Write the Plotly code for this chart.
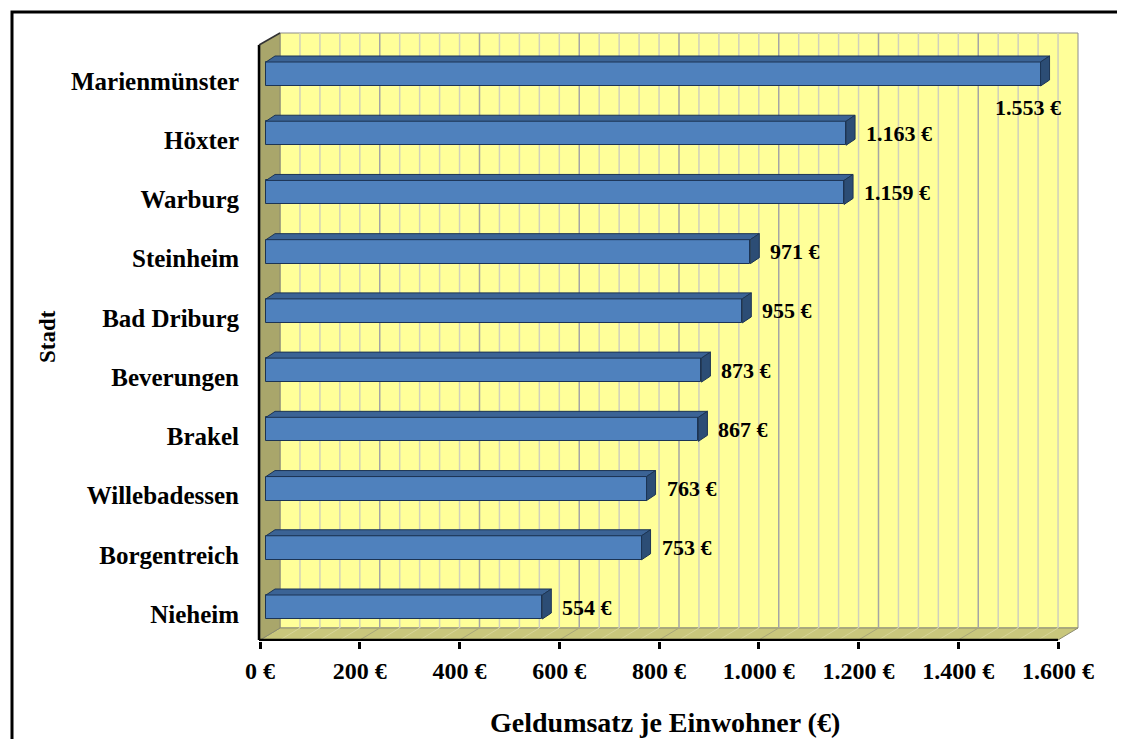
import plotly.graph_objects as go

# ---------------- data ----------------
cities = ["Nieheim", "Borgentreich", "Willebadessen", "Brakel", "Beverungen",
          "Bad Driburg", "Steinheim", "Warburg", "Höxter", "Marienmünster"]
values = [554, 753, 763, 867, 873, 955, 971, 1159, 1163, 1553]
tick_values = [0, 200, 400, 600, 800, 1000, 1200, 1400, 1600]
tick_labels = ["0 €", "200 €", "400 €", "600 €", "800 €", "1.000 €", "1.200 €", "1.400 €", "1.600 €"]
x_title = "Geldumsatz je Einwohner (€)"
y_title = "Stadt"
grid_step = 40


def euro(v):
    return f"{v:,}".replace(",", ".") + " €"


# ---------------- geometry (reference pixels -> axis units) ----------------
OFF = 8                     # page body margin
W, H = 1125 - OFF, 739 - OFF
PL, PR, PT, PB = 256, 1090, 30, 641
KX = 798 / 1600.0          # px per value unit
X0PX = 260                 # pixel of value 0
KY = 533 / 9.0             # px per category
Y0PX = 614                 # pixel of first category

xr = [(PL - X0PX) / KX, (PR - X0PX) / KX]
yr = [(Y0PX - PB) / KY, (Y0PX - PT) / KY]


def ux(p):
    return p / KX


def uy(p):
    return p / KY


def px_x(p):
    return (p - X0PX) / KX


def px_y(p):
    return (Y0PX - p) / KY


def paper_x(p):
    return (p - PL) / (PR - PL)


def paper_y(p):
    return (PB - p) / (PB - PT)


xmax = tick_values[-1]
DX, DY = ux(20), uy(12)
yf = px_y(640)
yt = px_y(33)

FONT = "Liberation Serif"
shapes = []

# back wall
shapes.append(dict(type="rect", xref="x", yref="y", x0=DX, x1=xmax + DX, y0=yf + DY, y1=yt,
                   fillcolor="#FFFF99", line=dict(color="#8C8C8C", width=1), layer="below"))
# floor
shapes.append(dict(type="path", xref="x", yref="y",
                   path=f"M 0 {yf} L {DX} {yf+DY} L {xmax+DX} {yf+DY} L {xmax} {yf} Z",
                   fillcolor="#C9C77C", line=dict(color="#8C8C70", width=1), layer="below"))
# left wall
shapes.append(dict(type="path", xref="x", yref="y",
                   path=f"M 0 {yf} L 0 {yt-DY} L {DX} {yt} L {DX} {yf+DY} Z",
                   fillcolor="#A9A66B", line=dict(color="#8C8C70", width=1), layer="below"))
# gridlines on wall and floor
v = grid_step
while v < xmax:
    major = (v % 200 == 0)
    col = "#A5A5A5" if major else "#D0D0BC"
    shapes.append(dict(type="line", xref="x", yref="y", x0=v + DX, x1=v + DX, y0=yf + DY, y1=yt,
                       line=dict(color=col, width=1.5), layer="below"))
    shapes.append(dict(type="line", xref="x", yref="y", x0=v, x1=v + DX, y0=yf, y1=yf + DY,
                       line=dict(color="#A8A67A" if major else "#D8D69A", width=1), layer="below"))
    v += grid_step
# axis lines
shapes.append(dict(type="line", xref="x", yref="y", x0=-ux(1), x1=-ux(1), y0=yf, y1=yt - DY,
                   line=dict(color="black", width=2.5), layer="below"))
shapes.append(dict(type="line", xref="x", yref="y", x0=-ux(1), x1=DX, y0=yt - DY, y1=yt,
                   line=dict(color="#333333", width=1.5), layer="below"))
shapes.append(dict(type="line", xref="x", yref="y", x0=-ux(1), x1=xmax, y0=yf, y1=yf,
                   line=dict(color="black", width=2.5), layer="below"))

# bars: 3D faces
B0 = ux(6)
bdx, bdy = ux(9), uy(6)
hh = uy(12)
ycs = [i + uy(7) for i in range(len(values))]
for v, yc in zip(values, ycs):
    top = (f"M {B0} {yc+hh} L {B0+v} {yc+hh} L {B0+v+bdx} {yc+hh+bdy} "
           f"L {B0+bdx} {yc+hh+bdy} Z")
    side = (f"M {B0+v} {yc-hh} L {B0+v+bdx} {yc-hh+bdy} L {B0+v+bdx} {yc+hh+bdy} "
            f"L {B0+v} {yc+hh} Z")
    shapes.append(dict(type="path", xref="x", yref="y", path=top, fillcolor="#3B6395",
                       line=dict(color="#1C3454", width=1), layer="above"))
    shapes.append(dict(type="path", xref="x", yref="y", path=side, fillcolor="#2C4D75",
                       line=dict(color="#1C3454", width=1), layer="above"))

# outer border
shapes.append(dict(type="rect", xref="paper", yref="paper",
                   x0=paper_x(12), x1=paper_x(1121), y0=paper_y(760), y1=paper_y(12),
                   line=dict(color="black", width=3), fillcolor="rgba(0,0,0,0)", layer="above"))

fig = go.Figure()
fig.add_trace(go.Bar(
    y=ycs, x=values, base=B0, orientation="h", width=2 * hh,
    marker=dict(color="#4F81BD", line=dict(color="#1C3454", width=1)),
    hoverinfo="skip", showlegend=False,
))

annotations = []
vmax = max(values)
for v, yc in zip(values, ycs):
    if v == vmax:
        annotations.append(dict(x=B0 + v + ux(22), y=yc - uy(33), xref="x", yref="y",
                                text=euro(v), showarrow=False, xanchor="right", yanchor="middle",
                                font=dict(family=FONT, size=22, color="black", weight="bold")))
    else:
        annotations.append(dict(x=B0 + v + ux(18), y=yc, xref="x", yref="y",
                                text=euro(v), showarrow=False, xanchor="left", yanchor="middle",
                                font=dict(family=FONT, size=22, color="black", weight="bold")))

annotations.append(dict(x=px_x(665), y=paper_y(722), xref="x", yref="paper", text=x_title,
                        showarrow=False, xanchor="center", yanchor="middle",
                        font=dict(family=FONT, size=28, color="black", weight="bold")))
annotations.append(dict(x=paper_x(47), y=paper_y(337), xref="paper", yref="paper", text=y_title,
                        showarrow=False, textangle=-90, xanchor="center", yanchor="middle",
                        font=dict(family=FONT, size=23, color="black", weight="bold")))

fig.update_layout(
    width=W, height=H,
    margin=dict(l=PL - OFF, r=1125 - PR, t=PT - OFF, b=739 - PB, pad=0),
    paper_bgcolor="white", plot_bgcolor="rgba(0,0,0,0)",
    shapes=shapes, annotations=annotations,
    bargap=0,
)
fig.update_xaxes(range=xr, tickvals=tick_values, ticktext=tick_labels,
                 showgrid=False, zeroline=False, showline=False,
                 ticks="outside", ticklen=7, tickwidth=2.5, tickcolor="black",
                 ticklabelstandoff=1,
                 tickfont=dict(family=FONT, size=24, color="black", weight="bold"))
fig.update_yaxes(range=yr, tickvals=list(range(len(cities))), ticktext=cities,
                 showgrid=False, zeroline=False, showline=False, ticks="",
                 ticklabelstandoff=16,
                 tickfont=dict(family=FONT, size=25, color="black", weight="bold"))

fig.write_html("out.html")
